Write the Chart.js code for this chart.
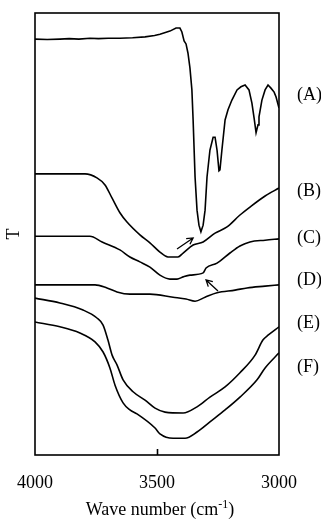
<!DOCTYPE html>
<html><head><meta charset="utf-8">
<script src="https://cdn.jsdelivr.net/npm/chart.js@4/dist/chart.umd.min.js"></script>
<style>html,body{margin:0;padding:0;background:#fff}</style>
</head><body>
<canvas id="c" width="321" height="520"></canvas>
<script>
// Wave number (cm-1) and transmittance (arbitrary units) for each spectrum
const waveA = [4000,3950,3898,3860,3820,3775,3740,3700,3652,3600,3549,3510,3488,3447,3422,3406,3398,3389,3381,3373,3365,3357,3352,3344,3336,3328,3320,3311,3303,3295,3283,3270,3262,3254,3246,3242,3234,3221,3209,3193,3172,3156,3139,3123,3111,3102,3094,3086,3082,3070,3057,3045,3033,3020,3012,3000];
const transA = [94.1,94.0,94.1,94.2,94.1,94.3,94.2,94.3,94.3,94.4,94.6,94.9,95.2,95.9,96.6,96.6,95.7,93.7,93.0,90.9,87.6,82.6,75.8,62.9,55.4,52.0,50.5,52.0,55.4,62.9,69.0,71.9,71.9,69.0,64.3,64.5,69.0,75.8,78.1,80.3,82.6,83.3,83.7,82.6,79.6,76.2,72.9,74.7,76.5,80.3,82.6,83.7,83.0,82.1,81.0,78.5];

const waveB = [4000,3900,3795,3746,3713,3684,3652,3623,3570,3529,3488,3455,3414,3393,3352,3311,3262,3213,3160,3119,3057,3000];
const transB = [63.6,63.6,63.6,62.7,61.1,58.1,54.8,52.7,49.8,48.0,45.9,44.8,44.8,45.7,47.5,48.2,50.2,51.6,54.3,56.1,58.6,60.4];

const waveC = [4000,3775,3725,3652,3611,3570,3529,3488,3447,3418,3393,3365,3311,3299,3254,3201,3160,3119,3057,3000];
const transC = [49.5,49.5,48.2,46.4,44.8,43.7,42.5,40.7,39.8,39.8,40.3,40.7,41.2,42.3,43.4,45.7,47.3,48.2,48.6,48.9];

const waveD = [4000,3754,3705,3664,3611,3529,3434,3381,3344,3303,3254,3180,3131,3057,3000];
const transD = [38.5,38.5,37.8,36.9,36.4,36.4,35.7,35.3,34.8,35.7,36.7,37.3,37.8,38.2,38.5];

const waveE = [4000,3898,3803,3746,3721,3701,3684,3664,3639,3598,3549,3508,3467,3393,3336,3283,3221,3160,3098,3066,3045,3000];
const transE = [35.5,34.4,32.8,31.0,29.4,26.0,22.6,20.4,17.0,14.3,12.4,10.6,9.7,9.5,10.9,13.1,15.4,18.6,22.6,26.0,27.1,29.0];

const waveF = [4000,3898,3816,3754,3721,3693,3672,3639,3611,3582,3508,3488,3434,3385,3336,3283,3221,3160,3090,3057,3000];
const transF = [30.1,29.0,27.6,25.6,23.3,19.7,15.8,11.8,10.2,9.3,6.1,4.8,3.8,3.8,5.2,7.5,10.2,13.1,17.0,19.7,23.1];

const seriesNames = ['(A)','(B)','(C)','(D)','(E)','(F)'];
const labelLevels = [81.4,59.7,49.1,39.6,29.9,19.9];
const xTicks = [4000,3500,3000];
const innerTicks = [3500];
// arrows: [tailWave, tailT, headWave, headT]
const arrows = [[3418,46.6,3352,49.1],[3250,37.1,3299,39.6]];

const serif = '"Liberation Serif", "Times New Roman", serif';
const waves = [waveA,waveB,waveC,waveD,waveE,waveF];
const trans = [transA,transB,transC,transD,transE,transF];

const datasets = waves.map((w,i)=>({
  label: seriesNames[i],
  data: w.map((x,j)=>({x:x,y:trans[i][j]})),
  borderColor:'#000', borderWidth:1.6, pointRadius:0,
  cubicInterpolationMode: i===0 ? 'default' : 'monotone',
  tension: i===0 ? 0 : 0.4, fill:false
}));

const decor = {
  id:'decor',
  afterDraw(chart){
    const {ctx, chartArea:a, scales:{x,y}} = chart;
    ctx.save();
    ctx.strokeStyle='#000'; ctx.fillStyle='#000';
    ctx.lineWidth=1.6;
    ctx.strokeRect(a.left, a.top, a.right-a.left, a.bottom-a.top);
    innerTicks.forEach(t=>{
      const px=Math.round(x.getPixelForValue(t))+0.5;
      ctx.beginPath(); ctx.moveTo(px,a.bottom); ctx.lineTo(px,a.bottom-6); ctx.stroke();
    });
    ctx.lineWidth=1.3;
    arrows.forEach(ar=>{
      const x1=x.getPixelForValue(ar[0]), y1=y.getPixelForValue(ar[1]);
      const x2=x.getPixelForValue(ar[2]), y2=y.getPixelForValue(ar[3]);
      const ang=Math.atan2(y2-y1,x2-x1), L=7;
      ctx.beginPath(); ctx.moveTo(x1,y1); ctx.lineTo(x2,y2);
      ctx.moveTo(x2-L*Math.cos(ang-0.5), y2-L*Math.sin(ang-0.5));
      ctx.lineTo(x2,y2);
      ctx.lineTo(x2-L*Math.cos(ang+0.5), y2-L*Math.sin(ang+0.5));
      ctx.stroke();
    });
    ctx.font='18px '+serif; ctx.textBaseline='middle'; ctx.textAlign='left';
    seriesNames.forEach((n,i)=>ctx.fillText(n, a.right+18, y.getPixelForValue(labelLevels[i])));
    // x-axis title with superscript
    const main='Wave number (cm', sup='-1', close=')';
    ctx.textBaseline='alphabetic';
    ctx.font='18px '+serif; const w1=ctx.measureText(main).width, w3=ctx.measureText(close).width;
    ctx.font='12px '+serif; const w2=ctx.measureText(sup).width;
    const total=w1+w2+w3; let sx=(a.left+a.right)/2+3-total/2; const by=chart.height-5;
    ctx.font='18px '+serif; ctx.fillText(main,sx,by);
    ctx.font='12px '+serif; ctx.fillText(sup,sx+w1,by-7);
    ctx.font='18px '+serif; ctx.fillText(close,sx+w1+w2,by);
    ctx.restore();
  }
};

new Chart(document.getElementById('c'), {
  type:'line',
  data:{datasets},
  plugins:[decor],
  options:{
    responsive:false, animation:false,
    layout:{padding:{left:0,right:42,top:13,bottom:0}},
    plugins:{legend:{display:false}, tooltip:{enabled:false}},
    scales:{
      x:{type:'linear', reverse:true, min:3000, max:4000,
        afterBuildTicks(s){ s.ticks = xTicks.map(v=>({value:v})); },
        afterFit(s){ s.height=65; },
        grid:{display:false, drawTicks:false}, border:{display:false},
        ticks:{autoSkip:false, maxRotation:0, padding:17, color:'#000', font:{family:serif,size:18},
          callback:(v)=>String(v)}
      },
      y:{min:0, max:100,
        afterFit(s){ s.width=35; },
        grid:{display:false, drawTicks:false}, border:{display:false},
        ticks:{display:false},
        title:{display:true, text:'T', color:'#000', font:{family:serif,size:18,lineHeight:1}, padding:{top:5,bottom:0}}
      }
    }
  }
});
</script>
</body></html>
